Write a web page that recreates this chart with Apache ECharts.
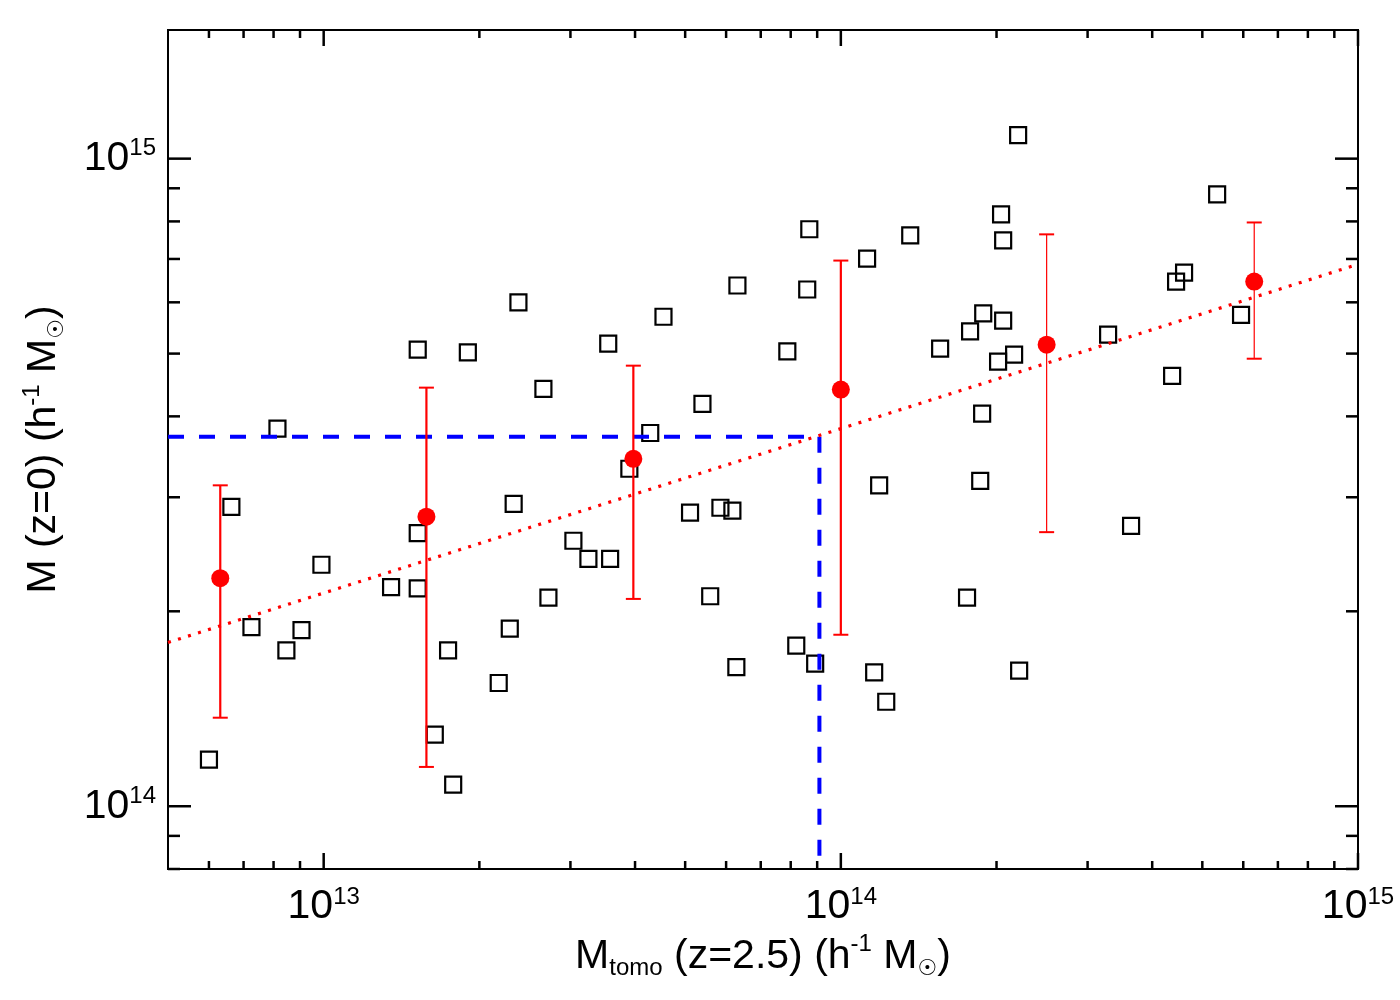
<!DOCTYPE html>
<html>
<head>
<meta charset="utf-8">
<script src="https://cdn.jsdelivr.net/npm/echarts@6/dist/echarts.min.js"></script>
<style>
  html, body { margin: 0; padding: 0; background: #fff; }
  #chart { width: 1400px; height: 1000px; }
</style>
</head>
<body>
<div id="chart"></div>
<script>
// axis ranges (log10 axes)
const X_MIN = 5e12, X_MAX = 1e15;
const Y_MIN = 8e13, Y_MAX = 1.58e15;

// individual groups (open squares)
const groupX = [
  6.0e12, 6.63e12, 7.25e12, 8.14e12, 8.47e12, 9.06e12, 9.9e12, 1.35e13, 1.52e13, 1.52e13,
  1.52e13, 1.64e13, 1.74e13, 1.78e13, 1.90e13, 2.18e13, 2.29e13, 2.33e13, 2.38e13, 2.66e13,
  2.72e13, 3.04e13, 3.25e13, 3.58e13, 3.55e13, 3.90e13, 4.28e13, 4.54e13, 5.11e13, 5.40e13,
  5.59e13, 5.85e13, 6.17e13, 6.28e13, 6.31e13, 7.88e13, 8.20e13, 8.61e13, 8.69e13, 8.92e13,
  1.124e14, 1.16e14, 1.186e14, 1.224e14, 1.362e14, 1.556e14, 1.754e14, 1.778e14, 1.86e14, 1.876e14,
  1.885e14, 2.014e14, 2.041e14, 2.06e14, 2.06e14, 2.163e14, 2.202e14, 2.212e14, 3.287e14, 3.641e14,
  4.371e14, 4.449e14, 4.61e14, 5.341e14, 5.941e14
];
const groupY = [
  1.18e14, 2.90e14, 1.89e14, 3.83e14, 1.74e14, 1.87e14, 2.36e14, 2.18e14, 2.17e14, 2.64e14,
  5.07e14, 1.29e14, 1.74e14, 1.08e14, 5.02e14, 1.55e14, 1.88e14, 2.93e14, 6.00e14, 4.41e14,
  2.10e14, 2.57e14, 2.41e14, 2.41e14, 5.18e14, 3.32e14, 3.77e14, 5.70e14, 2.84e14, 4.18e14,
  2.11e14, 2.89e14, 2.86e14, 1.64e14, 6.37e14, 5.04e14, 1.77e14, 6.28e14, 7.78e14, 1.66e14,
  7.01e14, 1.61e14, 3.13e14, 1.45e14, 7.61e14, 5.09e14, 2.10e14, 5.41e14, 3.18e14, 4.04e14,
  5.77e14, 4.86e14, 8.20e14, 7.48e14, 5.62e14, 4.98e14, 1.087e15, 1.62e14, 5.35e14, 2.71e14,
  4.62e14, 6.46e14, 6.67e14, 8.81e14, 5.74e14
];

// binned means with error bars (red)
const binX = [6.31e12, 1.58e13, 3.97e13, 1.0e14, 2.5e14, 6.3e14];
const binY = [2.25e14, 2.80e14, 3.44e14, 4.40e14, 5.16e14, 6.46e14];
const binLo = [1.37e14, 1.15e14, 2.09e14, 1.84e14, 2.65e14, 4.91e14];
const binHi = [3.13e14, 4.43e14, 4.79e14, 6.96e14, 7.64e14, 7.97e14];

// power-law fit (red dotted)
const fitX = [5e12, 1e15];
const fitY = [1.79e14, 6.87e14];

// blue guide lines
const guideX = 9.09e13;
const guideY = 3.72e14;

// tick values
const xMajor = [1e13, 1e14, 1e15];
const xMinor = [6e12, 7e12, 8e12, 9e12, 2e13, 3e13, 4e13, 5e13, 6e13, 7e13, 8e13, 9e13,
  2e14, 3e14, 4e14, 5e14, 6e14, 7e14, 8e14, 9e14];
const yMajor = [1e14, 1e15];
const yMinor = [8e13, 9e13, 2e14, 3e14, 4e14, 5e14, 6e14, 7e14, 8e14, 9e14];

const FONT = 'Liberation Sans';
const chart = echarts.init(document.getElementById('chart'));

function powLabel(value) {
  const e = Math.log10(value);
  if (Math.abs(e - Math.round(e)) > 1e-6) return '';
  return '{b|10}{s|' + Math.round(e) + '}';
}
const labelRich = {
  b: { fontFamily: FONT, fontSize: 41, lineHeight: 44, color: '#000' },
  s: { fontFamily: FONT, fontSize: 24, lineHeight: 14, verticalAlign: 'top', color: '#000' }
};
const nameRich = {
  m: { fontFamily: FONT, fontSize: 41, lineHeight: 48, color: '#000' },
  sub: { fontFamily: FONT, fontSize: 24, lineHeight: 22, verticalAlign: 'bottom', color: '#000' },
  sup: { fontFamily: FONT, fontSize: 24, lineHeight: 34, verticalAlign: 'top', color: '#000' },
  sun: { fontFamily: 'DejaVu Sans', fontSize: 22, lineHeight: 22, verticalAlign: 'bottom', color: '#000' }
};

// ticks on both opposite sides, drawn through the axis scales
function tickSeries(values, onX, len) {
  return {
    type: 'custom',
    silent: true,
    z: 6,
    clip: false,
    data: values.map((v) => (onX ? [v, Y_MIN] : [X_MIN, v])),
    renderItem: (params, api) => {
      const style = { stroke: '#000', lineWidth: 2.5 };
      if (onX) {
        const v = api.value(0);
        const a = api.coord([v, Y_MIN]);
        const b = api.coord([v, Y_MAX]);
        return {
          type: 'group',
          children: [
            { type: 'line', shape: { x1: a[0], y1: a[1], x2: a[0], y2: a[1] - len }, style },
            { type: 'line', shape: { x1: b[0], y1: b[1], x2: b[0], y2: b[1] + len }, style }
          ]
        };
      }
      const v = api.value(1);
      const a = api.coord([X_MIN, v]);
      const b = api.coord([X_MAX, v]);
      return {
        type: 'group',
        children: [
          { type: 'line', shape: { x1: a[0], y1: a[1], x2: a[0] + len, y2: a[1] }, style },
          { type: 'line', shape: { x1: b[0], y1: b[1], x2: b[0] - len, y2: b[1] }, style }
        ]
      };
    }
  };
}

const option = {
  animation: false,
  backgroundColor: '#fff',
  grid: {
    left: 168, right: 42, top: 30, bottom: 131,
    show: true, borderColor: '#000', borderWidth: 2, backgroundColor: 'transparent'
  },
  xAxis: {
    type: 'log',
    logBase: 10,
    min: X_MIN,
    max: X_MAX,
    axisLine: { show: false },
    axisTick: { show: false },
    splitLine: { show: false },
    axisLabel: { formatter: powLabel, margin: 16, rich: labelRich, showMinLabel: false },
    name: '{m|M}{sub|tomo}{m| (z=2.5) (h}{sup|-1}{m| M}{sun|☉}{m|)}',
    nameLocation: 'middle',
    nameGap: 59,
    nameTextStyle: { rich: nameRich }
  },
  yAxis: {
    type: 'log',
    logBase: 10,
    min: Y_MIN,
    max: Y_MAX,
    axisLine: { show: false },
    axisTick: { show: false },
    splitLine: { show: false },
    axisLabel: { formatter: powLabel, margin: 12, rich: labelRich },
    name: '{m|M (z=0) (h}{sup|-1}{m| M}{sun|☉}{m|)}',
    nameLocation: 'middle',
    nameRotate: 90,
    nameGap: 100,
    nameTextStyle: { rich: nameRich }
  },
  series: [
    tickSeries(xMajor, true, 16),
    tickSeries(xMinor, true, 8),
    tickSeries(yMajor, false, 23),
    tickSeries(yMinor, false, 12),
    {
      name: 'groups',
      type: 'scatter',
      symbol: 'rect',
      symbolSize: 16,
      z: 2,
      itemStyle: { color: 'rgba(0,0,0,0)', borderColor: '#000', borderWidth: 2.2, opacity: 1 },
      data: groupX.map((x, i) => [x, groupY[i]])
    },
    {
      name: 'guide-h',
      type: 'line',
      symbol: 'none',
      z: 3,
      lineStyle: { color: '#0000ff', width: 4, type: [16, 15] },
      data: [[X_MIN, guideY], [guideX, guideY]]
    },
    {
      name: 'guide-v',
      type: 'line',
      symbol: 'none',
      z: 3,
      lineStyle: { color: '#0000ff', width: 4, type: [16, 15] },
      data: [[guideX, guideY], [guideX, Y_MIN]]
    },
    {
      name: 'fit',
      type: 'line',
      symbol: 'none',
      z: 3,
      lineStyle: { color: '#ff0000', width: 3.2, type: [3, 7.5] },
      data: fitX.map((x, i) => [x, fitY[i]])
    },
    {
      name: 'errors',
      type: 'custom',
      z: 4,
      encode: { x: 0, y: [1, 2] },
      data: binX.map((x, i) => [x, binLo[i], binHi[i]]),
      renderItem: (params, api) => {
        const x = api.value(0);
        const lo = api.coord([x, api.value(1)]);
        const hi = api.coord([x, api.value(2)]);
        const w = params.dataIndex < 4 ? 2.2 : 1.2;
        const cap = 7.5;
        return {
          type: 'group',
          children: [
            { type: 'line', shape: { x1: lo[0], y1: lo[1], x2: hi[0], y2: hi[1] }, style: { stroke: '#ff0000', lineWidth: w } },
            { type: 'line', shape: { x1: lo[0] - cap, y1: lo[1], x2: lo[0] + cap, y2: lo[1] }, style: { stroke: '#ff0000', lineWidth: 2 } },
            { type: 'line', shape: { x1: hi[0] - cap, y1: hi[1], x2: hi[0] + cap, y2: hi[1] }, style: { stroke: '#ff0000', lineWidth: 2 } }
          ]
        };
      }
    },
    {
      name: 'bins',
      type: 'scatter',
      symbol: 'circle',
      symbolSize: 18,
      z: 5,
      itemStyle: { color: '#ff0000', opacity: 1 },
      data: binX.map((x, i) => [x, binY[i]])
    }
  ]
};

chart.setOption(option);
</script>
</body>
</html>
